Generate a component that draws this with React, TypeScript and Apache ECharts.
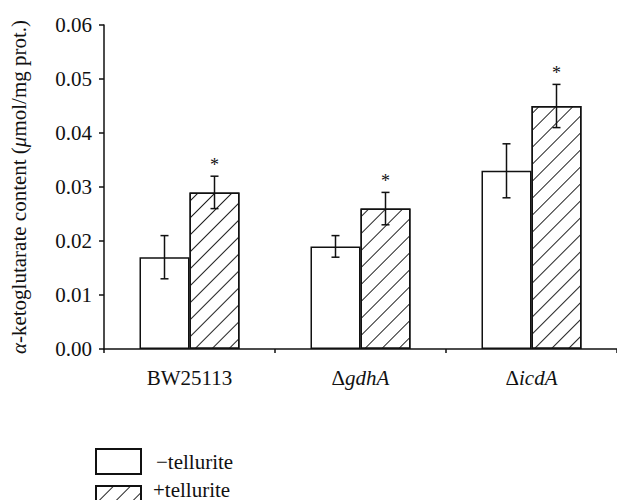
import React, { useEffect, useRef } from "react";
import * as echarts from "echarts";

const categories = ["BW25113", "ΔgdhA", "ΔicdA"];
const minusValues = [0.017, 0.019, 0.033];
const minusErrors = [0.004, 0.002, 0.005];
const plusValues = [0.029, 0.026, 0.045];
const plusErrors = [0.003, 0.003, 0.004];
const plusSignificant = [true, true, true];
const yTicks = [0, 0.01, 0.02, 0.03, 0.04, 0.05, 0.06];
const seriesNames = ["\u2212tellurite", "+tellurite"];

const FONT = "'Liberation Serif', 'DejaVu Serif', serif";
const FS = 21;

export default function App() {
  const ref = useRef<HTMLDivElement>(null);
  useEffect(() => {
    if (!ref.current) return;
    const chart = echarts.init(ref.current, undefined, { renderer: "svg" });
    const barW = 50;
    const errData: any[] = [];
    minusValues.forEach((v, i) => errData.push([i, v, minusErrors[i], -1, 0]));
    plusValues.forEach((v, i) => errData.push([i, v, plusErrors[i], 1, plusSignificant[i] ? 1 : 0]));

    const option: any = {
      animation: false,
      backgroundColor: "#fff",
      textStyle: { fontFamily: FONT },
      grid: { left: 95, right: -2, top: 25, bottom: 151, containLabel: false },
      legend: [
        {
          left: 95,
          top: 448,
          padding: 0,
          itemWidth: 45,
          itemHeight: 25,
          icon: "rect",
          data: [seriesNames[0]],
          textStyle: { fontFamily: FONT, fontSize: FS, color: "#111", padding: [0, 0, 0, 10] },
        },
        {
          left: 95,
          top: 485,
          padding: 0,
          itemWidth: 45,
          itemHeight: 25,
          icon: "rect",
          data: [seriesNames[1]],
          formatter: () => "",
          textStyle: { fontFamily: FONT, fontSize: FS, color: "#111" },
        },
      ],
      graphic: [
        {
          type: "text",
          left: 153,
          top: 479,
          style: {
            text: seriesNames[1],
            fontFamily: FONT,
            fontSize: FS,
            fill: "#111",
          },
        },
      ],
      xAxis: {
        type: "category",
        data: categories,
        axisLine: { lineStyle: { color: "#111", width: 1.5 } },
        axisTick: { show: true, length: 4, lineStyle: { color: "#111", width: 1.5 } },
        axisLabel: {
          margin: 18,
          fontFamily: FONT,
          fontSize: FS,
          color: "#111",
          formatter: (v: string) => (v.startsWith("Δ") ? `{n|Δ}{i|${v.slice(1)}}` : v),
          rich: {
            n: { fontFamily: FONT, fontSize: FS, color: "#111" },
            i: { fontFamily: FONT, fontSize: FS, color: "#111", fontStyle: "italic" },
          },
        },
      },
      yAxis: {
        type: "value",
        min: yTicks[0],
        max: yTicks[yTicks.length - 1],
        interval: 0.01,
        splitLine: { show: false },
        axisLine: { show: true, lineStyle: { color: "#111", width: 1.5 } },
        axisTick: { show: true, length: 5, lineStyle: { color: "#111", width: 1.5 } },
        axisLabel: {
          fontFamily: FONT,
          fontSize: FS,
          color: "#111",
          margin: 12,
          formatter: (v: number) => v.toFixed(2),
        },
        name: "{i|α}-ketoglutarate content ({i|μ}mol/mg prot.)",
        nameLocation: "middle",
        nameRotate: 90,
        nameGap: 75,
        nameTextStyle: {
          fontFamily: FONT,
          fontSize: FS,
          color: "#111",
          rich: {
            i: { fontFamily: FONT, fontSize: FS, color: "#111", fontStyle: "italic" },
          },
        },
      },
      series: [
        {
          name: seriesNames[0],
          type: "bar",
          data: minusValues,
          barWidth: barW,
          barGap: "0%",
          itemStyle: { color: "#fff", borderColor: "#111", borderWidth: 1.5 },
        },
        {
          name: seriesNames[1],
          type: "bar",
          data: plusValues,
          barWidth: barW,
          barGap: "0%",
          itemStyle: {
            color: "#fff",
            borderColor: "#111",
            borderWidth: 1.5,
            decal: {
              symbol: "rect",
              symbolSize: 1,
              color: "#222",
              dashArrayX: [1, 0],
              dashArrayY: [1, 11],
              rotation: -Math.PI / 4,
            },
          },
        },
        {
          type: "custom",
          silent: true,
          z: 10,
          data: errData,
          renderItem: (params: any, api: any) => {
            const cat = api.value(0);
            const val = api.value(1);
            const err = api.value(2);
            const side = api.value(3);
            const star = api.value(4);
            const c = api.coord([cat, val]);
            const x = c[0] + side * (barW / 2);
            const top = api.coord([cat, val + err])[1];
            const bot = api.coord([cat, val - err])[1];
            const cap = 4;
            const style = { stroke: "#111", lineWidth: 1.5 };
            const children: any[] = [
              { type: "line", shape: { x1: x, y1: top, x2: x, y2: bot }, style },
              { type: "line", shape: { x1: x - cap, y1: top, x2: x + cap, y2: top }, style },
              { type: "line", shape: { x1: x - cap, y1: bot, x2: x + cap, y2: bot }, style },
            ];
            if (star) {
              children.push({
                type: "text",
                style: {
                  text: "*",
                  x: x,
                  y: top - 11,
                  align: "center",
                  verticalAlign: "middle",
                  fontFamily: FONT,
                  fontSize: 18,
                  fill: "#111",
                },
              });
            }
            return { type: "group", children };
          },
        },
      ],
    };
    chart.setOption(option);
    return () => chart.dispose();
  }, []);
  return (
    <div
      ref={ref}
      style={{ position: "absolute", left: 0, top: 0, width: 617, height: 500 }}
    />
  );
}
